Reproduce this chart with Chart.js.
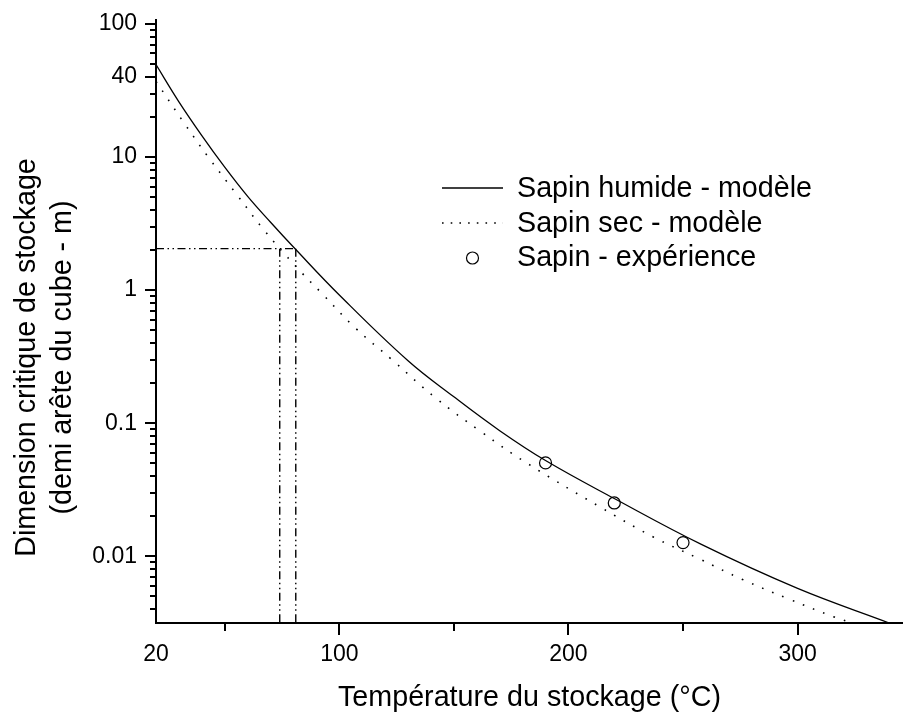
<!DOCTYPE html>
<html lang="fr">
<head>
<meta charset="utf-8">
<title>Dimension critique de stockage</title>
<script src="https://cdn.jsdelivr.net/npm/chart.js@4.4.1/dist/chart.umd.min.js"></script>
<style>
  html, body { margin: 0; padding: 0; background: #fff; }
  #wrap { position: relative; width: 903px; height: 715px; }
</style>
</head>
<body>
<div id="wrap"><canvas id="chart"></canvas></div>
<script>
/* ===== Données ===== */
const humideT = [20, 30, 40, 50, 60, 70, 81, 100, 130, 150, 170, 190, 220, 258, 300, 340];
const humideD = [49.5, 26.0, 14.5, 8.4, 5.07, 3.24, 2.02, 0.92, 0.295, 0.158, 0.088, 0.0525, 0.0272, 0.0123, 0.00575, 0.00316];

const secT = [20, 32, 43, 55, 67, 81, 92, 107, 123, 142, 162, 182, 214, 237, 257, 276, 296, 316, 324];
const secD = [37, 18.3, 9.9, 5.3, 2.85, 1.51, 0.96, 0.52, 0.30, 0.155, 0.086, 0.050, 0.0234, 0.014, 0.0096, 0.0067, 0.0048, 0.0035, 0.00316];

const expT = [190, 220, 250];
const expD = [0.0504, 0.0252, 0.0127];

// lignes de lecture (tirets-points)
const refLevel = 2.05;
const refTemps = [74, 81];

// axes
const xMin = 20, xMax = 346;
const yMin = 0.00316, yMax = 107;
const xTicks = [20, 100, 200, 300];
const xMinorTicks = [50, 150, 250];
const yTicks = [0.01, 0.1, 1, 10, 40, 100];
const yTickLabels = ['0.01', '0.1', '1', '10', '40', '100'];
const yMinorTicks = [0.004, 0.005, 0.006, 0.007, 0.008, 0.009,
                     0.02, 0.03, 0.04, 0.05, 0.06, 0.07, 0.08, 0.09,
                     0.2, 0.3, 0.4, 0.5, 0.6, 0.7, 0.8, 0.9,
                     2, 3, 4, 5, 6, 7, 8, 9,
                     20, 30, 50, 60, 70, 80, 90];

const FONT = '"Liberation Sans", Arial, Helvetica, sans-serif';
const DOTS = [1.6, 9.4];
const DASH_DOT_DOT = [8, 3.5, 1.5, 3.5, 1.5, 3.5];

const toPts = (xs, ys) => xs.map((x, i) => ({ x: x, y: ys[i] }));

/* ===== Petites graduations ===== */
const minorTicksPlugin = {
  id: 'minorTicks',
  afterDraw(chart) {
    const { ctx, chartArea } = chart;
    const xs = chart.scales.x, ys = chart.scales.y;
    ctx.save();
    ctx.strokeStyle = '#000';
    ctx.lineWidth = 2;
    ctx.beginPath();
    yMinorTicks.forEach(v => {
      const py = Math.round(ys.getPixelForValue(v));
      ctx.moveTo(chartArea.left - 6, py);
      ctx.lineTo(chartArea.left, py);
    });
    xMinorTicks.forEach(v => {
      const px = Math.round(xs.getPixelForValue(v));
      ctx.moveTo(px, chartArea.bottom);
      ctx.lineTo(px, chartArea.bottom + 8);
    });
    ctx.stroke();
    ctx.restore();
  }
};

/* ===== Titre de l'axe Y (centré sur la figure) ===== */
const yTitlePlugin = {
  id: 'yTitle',
  afterDraw(chart) {
    const { ctx } = chart;
    const lines = ['Dimension critique de stockage', '(demi arête du cube - m)'];
    const baseX = [35, 71];
    ctx.save();
    ctx.fillStyle = '#000';
    ctx.font = '28.7px ' + FONT;
    ctx.textAlign = 'center';
    ctx.textBaseline = 'alphabetic';
    lines.forEach((t, i) => {
      ctx.save();
      ctx.translate(baseX[i], chart.height / 2);
      ctx.rotate(-Math.PI / 2);
      ctx.fillText(t, 0, 0);
      ctx.restore();
    });
    ctx.restore();
  }
};

/* ===== Légende dans le graphique ===== */
const legendPlugin = {
  id: 'inlineLegend',
  afterDraw(chart) {
    const { ctx } = chart;
    const items = chart.data.datasets.filter(d => d.inLegend);
    const x0 = 442, x1 = 503, textX = 517;
    const lineY = [188, 223, 258];
    const baseY = [197, 232, 266];
    ctx.save();
    ctx.font = '28.7px ' + FONT;
    ctx.fillStyle = '#000';
    ctx.textBaseline = 'alphabetic';
    items.forEach((d, i) => {
      ctx.save();
      ctx.strokeStyle = '#000';
      if (d.showLine === false) {
        ctx.lineWidth = 1.2;
        ctx.fillStyle = '#fff';
        ctx.beginPath();
        ctx.arc((x0 + x1) / 2, lineY[i], d.pointRadius, 0, Math.PI * 2);
        ctx.fill();
        ctx.stroke();
      } else {
        ctx.lineWidth = d.borderWidth;
        ctx.setLineDash(d.borderDash ? [1.6, 7.1] : []);
        ctx.beginPath();
        ctx.moveTo(x0, lineY[i]);
        ctx.lineTo(x1, lineY[i]);
        ctx.stroke();
      }
      ctx.restore();
      ctx.fillText(d.label, textX, baseY[i]);
    });
    ctx.restore();
  }
};

const refLine = (pts) => ({
  label: 'ref',
  data: pts,
  borderColor: '#000',
  borderWidth: 1.4,
  borderDash: DASH_DOT_DOT,
  pointRadius: 0,
  tension: 0,
});

new Chart(document.getElementById('chart'), {
  type: 'line',
  data: {
    datasets: [
      refLine([{ x: xMin, y: refLevel }, { x: refTemps[1], y: refLevel }]),
      refLine([{ x: refTemps[0], y: refLevel }, { x: refTemps[0], y: yMin }]),
      refLine([{ x: refTemps[1], y: refLevel }, { x: refTemps[1], y: yMin }]),
      {
        label: 'Sapin humide - modèle',
        inLegend: true,
        data: toPts(humideT, humideD),
        borderColor: '#000',
        borderWidth: 1.3,
        pointRadius: 0,
        tension: 0.4,
      },
      {
        label: 'Sapin sec - modèle',
        inLegend: true,
        data: toPts(secT, secD),
        borderColor: '#000',
        borderWidth: 1.6,
        borderDash: DOTS,
        pointRadius: 0,
        tension: 0.4,
      },
      {
        label: 'Sapin - expérience',
        inLegend: true,
        data: toPts(expT, expD),
        showLine: false,
        pointStyle: 'circle',
        pointRadius: 6,
        pointBorderWidth: 1.2,
        pointBorderColor: '#000',
        pointBackgroundColor: '#fff',
      },
    ],
  },
  options: {
    responsive: true,
    maintainAspectRatio: false,
    animation: false,
    layout: { autoPadding: false, padding: { top: 20, right: 0, bottom: 0, left: 0 } },
    plugins: { legend: { display: false }, tooltip: { enabled: false } },
    scales: {
      x: {
        type: 'linear',
        min: xMin,
        max: xMax,
        afterFit: s => { s.height = 92; s.paddingLeft = 0; s.paddingRight = 0; },
        afterBuildTicks: s => { s.ticks = xTicks.map(v => ({ value: v })); },
        border: { display: true, color: '#000', width: 2 },
        grid: {
          drawOnChartArea: false,
          tickLength: 12,
          lineWidth: 2,
          tickColor: c => (c.tick && c.tick.value === xMin) ? 'rgba(0,0,0,0)' : '#000',
        },
        ticks: {
          color: '#000',
          font: { family: FONT, size: 23 },
          padding: 6,
          autoSkip: false,
          maxRotation: 0,
          callback: v => String(v),
        },
        title: {
          display: true,
          text: 'Température du stockage (°C)',
          color: '#000',
          font: { family: FONT, size: 28.7 },
          padding: { top: 0, bottom: 0 },
        },
      },
      y: {
        type: 'logarithmic',
        min: yMin,
        max: yMax,
        afterFit: s => { s.width = 156; s.paddingTop = 0; s.paddingBottom = 0; },
        afterBuildTicks: s => { s.ticks = yTicks.map(v => ({ value: v })); },
        border: { display: true, color: '#000', width: 2 },
        grid: {
          drawOnChartArea: false,
          tickLength: 11,
          lineWidth: 2,
          color: '#000',
        },
        ticks: {
          color: '#000',
          font: { family: FONT, size: 23 },
          padding: 8,
          autoSkip: false,
          callback: v => {
            const i = yTicks.indexOf(v);
            return i >= 0 ? yTickLabels[i] : '';
          },
        },
      },
    },
  },
  plugins: [minorTicksPlugin, yTitlePlugin, legendPlugin],
});
</script>
</body>
</html>
